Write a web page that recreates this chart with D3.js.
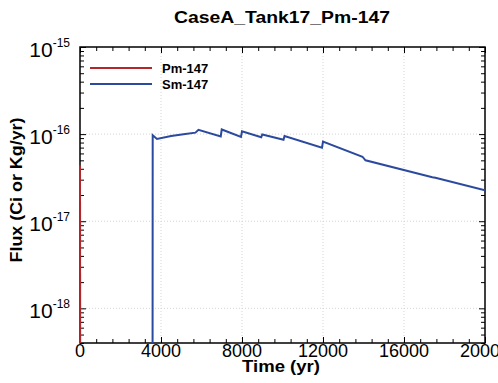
<!DOCTYPE html>
<html>
<head>
<meta charset="utf-8">
<script src="https://cdn.jsdelivr.net/npm/d3@7"></script>
<style>
  body { margin: 0; background: #fff; }
  text { font-family: Arial, "Liberation Sans", Helvetica, sans-serif; }
</style>
</head>
<body>
<div id="chart"></div>
<script>
// Chart values
const title = "CaseA_Tank17_Pm-147";
const seriesNames = ["Pm-147", "Sm-147"];
const seriesColors = ["#b3262a", "#2b4a9e"];

// Pm-147: drops straight down at t = 0
const pmTime = [0, 15];
const pmFlux = [4.4e-17, 1e-20];

// Sm-147
const smTime = [3580, 3590, 3800, 4500, 5200, 5700, 5850, 6950, 7000, 7950, 8000, 8950, 9000,
  10050, 10100, 11950, 12000, 13950, 14100, 17400, 17550, 20000];
const smFlux = [1e-20, 0.97e-16, 0.88e-16, 0.95e-16, 1.0e-16, 1.04e-16, 1.12e-16, 0.94e-16, 1.13e-16,
  0.93e-16, 1.08e-16, 0.92e-16, 0.99e-16, 0.86e-16, 0.95e-16, 0.70e-16, 0.82e-16, 0.55e-16,
  0.50e-16, 0.32e-16, 0.315e-16, 0.227e-16];

const xTicks = [0, 4000, 8000, 12000, 16000, 20000];
const yDecades = [-18, -17, -16, -15];

// Set up chart dimensions
var width = 498;
var height = 383;
var margin = { top: 47, right: 13, bottom: 40, left: 80 };
var innerW = width - margin.left - margin.right;
var innerH = height - margin.top - margin.bottom;

var svg = d3.select("#chart").append("svg")
  .attr("width", width)
  .attr("height", height);

var x = d3.scaleLinear().domain([0, 20000]).range([0, innerW]);
var y = d3.scaleLog().domain([4e-19, 1e-15]).range([innerH, 0]);

var g = svg.append("g")
  .attr("transform", "translate(" + margin.left + "," + margin.top + ")");

// Title
svg.append("text")
  .attr("x", 282)
  .attr("y", 23)
  .attr("text-anchor", "middle")
  .attr("font-weight", "bold")
  .attr("font-size", 16)
  .attr("textLength", 216)
  .attr("lengthAdjust", "spacingAndGlyphs")
  .text(title);

// Grid lines (dotted)
g.selectAll(".gx")
  .data(xTicks.slice(1, -1))
  .enter().append("line")
  .attr("x1", d => x(d)).attr("x2", d => x(d))
  .attr("y1", 0).attr("y2", innerH)
  .attr("stroke", "#d4d4d4")
  .attr("stroke-dasharray", "1,2");

g.selectAll(".gy")
  .data(yDecades.slice(0, -1))
  .enter().append("line")
  .attr("x1", 0).attr("x2", innerW)
  .attr("y1", d => y(Math.pow(10, d))).attr("y2", d => y(Math.pow(10, d)))
  .attr("stroke", "#d4d4d4")
  .attr("stroke-dasharray", "1,2");

// Minor tick positions
var xMinor = d3.range(0, 20001, 800).filter(d => d % 4000 !== 0);
var yMinor = [];
[-19, -18, -17, -16].forEach(function (e) {
  for (var k = 2; k <= 9; k++) {
    var v = k * Math.pow(10, e);
    if (v >= 4e-19 && v <= 1e-15) yMinor.push(v);
  }
});
var yMajor = yDecades.map(d => Math.pow(10, d));

// Axes with inward ticks on all four sides
function addAxis(axis, transform) {
  var a = g.append("g").attr("transform", transform).call(axis);
  a.select(".domain").remove();
  a.selectAll("text").remove();
  a.selectAll("line").attr("stroke", "#000");
  return a;
}
addAxis(d3.axisBottom(x).tickValues(xTicks).tickSize(-6), "translate(0," + innerH + ")");
addAxis(d3.axisBottom(x).tickValues(xMinor).tickSize(-4), "translate(0," + innerH + ")");
addAxis(d3.axisTop(x).tickValues(xTicks).tickSize(-6), "translate(0,0)");
addAxis(d3.axisTop(x).tickValues(xMinor).tickSize(-4), "translate(0,0)");
addAxis(d3.axisLeft(y).tickValues(yMajor).tickSize(-6), "translate(0,0)");
addAxis(d3.axisLeft(y).tickValues(yMinor).tickSize(-4), "translate(0,0)");
addAxis(d3.axisRight(y).tickValues(yMajor).tickSize(-6), "translate(" + innerW + ",0)");
addAxis(d3.axisRight(y).tickValues(yMinor).tickSize(-4), "translate(" + innerW + ",0)");

// Frame
g.append("rect")
  .attr("width", innerW)
  .attr("height", innerH)
  .attr("fill", "none")
  .attr("stroke", "#000")
  .attr("stroke-width", 1.5);

// X tick labels
g.selectAll(".xl")
  .data(xTicks)
  .enter().append("text")
  .attr("x", d => x(d))
  .attr("y", innerH + 14)
  .attr("text-anchor", "middle")
  .attr("font-size", 18)
  .text(d => d);

// Y tick labels: 10 with exponent
var yl = g.selectAll(".yl")
  .data(yDecades)
  .enter().append("text")
  .attr("x", -10)
  .attr("y", d => y(Math.pow(10, d)) + 10)
  .attr("text-anchor", "end")
  .attr("font-size", 21);
yl.append("tspan").text("10");
yl.append("tspan")
  .attr("font-size", 12)
  .attr("dy", -10)
  .text(d => d);

// Axis titles
svg.append("text")
  .attr("x", 281)
  .attr("y", 372)
  .attr("text-anchor", "middle")
  .attr("font-weight", "bold")
  .attr("font-size", 16)
  .attr("textLength", 78)
  .attr("lengthAdjust", "spacingAndGlyphs")
  .text("Time (yr)");

svg.append("text")
  .attr("transform", "translate(22,190) rotate(-90)")
  .attr("text-anchor", "middle")
  .attr("font-weight", "bold")
  .attr("font-size", 17)
  .attr("textLength", 145)
  .attr("lengthAdjust", "spacingAndGlyphs")
  .text("Flux (Ci or Kg/yr)");

// Lines
svg.append("defs").append("clipPath").attr("id", "clip")
  .append("rect").attr("x", -2).attr("y", 0).attr("width", innerW + 2).attr("height", innerH);

var line = d3.line().x(d => x(d[0])).y(d => y(d[1]));
var series = [d3.zip(pmTime, pmFlux), d3.zip(smTime, smFlux)];

g.append("g").attr("clip-path", "url(#clip)")
  .selectAll("path")
  .data(series)
  .enter().append("path")
  .attr("d", line)
  .attr("fill", "none")
  .attr("stroke", (d, i) => seriesColors[i])
  .attr("stroke-width", 2);

// Legend
var leg = g.selectAll(".leg")
  .data(seriesNames)
  .enter().append("g")
  .attr("transform", (d, i) => "translate(10," + (21 + i * 16) + ")");
leg.append("line")
  .attr("x1", 0).attr("x2", 62)
  .attr("stroke", (d, i) => seriesColors[i])
  .attr("stroke-width", 2);
leg.append("text")
  .attr("x", 72)
  .attr("y", 5)
  .attr("font-weight", "bold")
  .attr("font-size", 13)
  .text(d => d);
</script>
</body>
</html>
